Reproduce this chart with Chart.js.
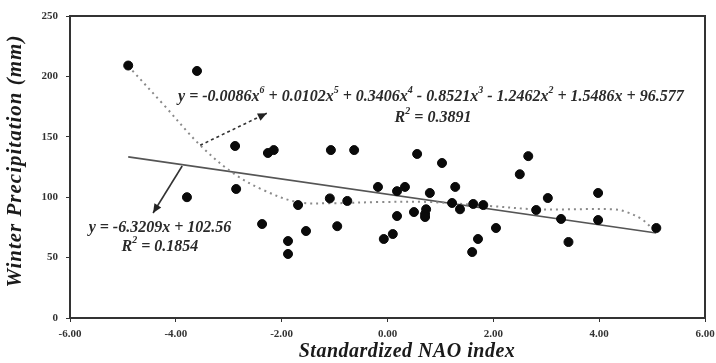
<!DOCTYPE html>
<html>
<head>
<meta charset="utf-8">
<script src="https://cdn.jsdelivr.net/npm/chart.js@4/dist/chart.umd.min.js"></script>
<style>
  html, body { margin: 0; padding: 0; background: #fff; }
  #wrap { width: 716px; height: 363px; }
</style>
</head>
<body>
<div id="wrap"><canvas id="chart" width="716" height="363"></canvas></div>
<script>
// Observed points: standardized NAO index vs winter precipitation (mm)
const naoIndex = [-4.90, -3.60, -2.88, -2.26, -2.15, -1.07, -0.63, 0.56, 1.03, 2.66, 2.50,
    -3.79, -2.86, -2.37, -1.88, -1.88, -1.69, -1.54, -1.09, -0.76, -0.95,
    -0.18, 0.18, 0.33, 0.80, 1.28, 1.22, 1.37, 1.62, 1.81, 0.18, 0.50, 0.73, 0.71, 0.71,
    -0.07, 0.10, 1.60, 1.71, 2.05, 2.81, 3.03, 3.28, 3.42, 3.98, 3.98, 5.08];
const winterPrecip = [209, 204.5, 142.4, 136.6, 139, 139, 139, 135.8, 128.3, 134, 119,
    100, 106.8, 77.8, 63.7, 53, 93.5, 72, 99, 96.9, 76,
    108.5, 105, 108.5, 103.5, 108.5, 95.2, 90, 94.4, 93.5, 84.4, 87.7, 90, 86, 83.6,
    65.4, 69.5, 54.6, 65.4, 74.5, 89.4, 99.3, 82, 62.9, 103.5, 81.1, 74.5];

// Linear trend line (end points)
const linearX = [-4.90, 5.08];
const linearY = [133.4, 70.4];

// 6th order polynomial trend (dotted)
const polyX = [-4.90, -4.22, -3.54, -2.92, -2.35, -1.71, -1.09, -0.14, 0.80, 1.94, 2.83, 4.26, 4.52, 4.83, 5.08];
const polyY = [208.6, 176, 143, 120, 106, 96, 95, 96, 96, 92.7, 90, 90, 87.7, 81, 70.4];

// Axis ticks
const xTicks = [-6, -4, -2, 0, 2, 4, 6];
const yTicks = [0, 50, 100, 150, 200, 250];

const toPoints = (xs, ys) => xs.map((x, i) => ({ x: x, y: ys[i] }));

const SERIF = '"Liberation Serif", "DejaVu Serif", serif';

// Draw a string made of normal and superscript parts, centred on cx
function drawEquation(ctx, parts, cx, cy, size) {
    const normal = `italic bold ${size}px ${SERIF}`;
    const sup = `italic bold ${Math.round(size * 0.6)}px ${SERIF}`;
    let width = 0;
    parts.forEach(p => {
        ctx.font = p[1] ? sup : normal;
        width += ctx.measureText(p[0]).width;
    });
    let x = cx - width / 2;
    ctx.textBaseline = 'middle';
    ctx.textAlign = 'left';
    parts.forEach(p => {
        ctx.font = p[1] ? sup : normal;
        ctx.fillText(p[0], x, p[1] ? cy - size * 0.4 : cy);
        x += ctx.measureText(p[0]).width;
    });
}

function drawArrow(ctx, x1, y1, x2, y2, dash) {
    ctx.save();
    ctx.strokeStyle = '#333';
    ctx.fillStyle = '#222';
    ctx.lineWidth = 1.6;
    ctx.setLineDash(dash);
    ctx.beginPath();
    ctx.moveTo(x1, y1);
    ctx.lineTo(x2, y2);
    ctx.stroke();
    ctx.setLineDash([]);
    const a = Math.atan2(y2 - y1, x2 - x1);
    const len = 9, w = 4;
    ctx.beginPath();
    ctx.moveTo(x2, y2);
    ctx.lineTo(x2 - len * Math.cos(a) + w * Math.sin(a), y2 - len * Math.sin(a) - w * Math.cos(a));
    ctx.lineTo(x2 - len * Math.cos(a) - w * Math.sin(a), y2 - len * Math.sin(a) + w * Math.cos(a));
    ctx.closePath();
    ctx.fill();
    ctx.restore();
}

const notesPlugin = {
    id: 'notes',
    afterDraw(chart) {
        const { ctx, chartArea, scales } = chart;
        const px = v => scales.x.getPixelForValue(v);
        const py = v => scales.y.getPixelForValue(v);

        // frame around the plot
        ctx.save();
        ctx.strokeStyle = '#333';
        ctx.lineWidth = 2;
        ctx.strokeRect(chartArea.left, chartArea.top, chartArea.width, chartArea.height);
        ctx.restore();

        // arrows
        drawArrow(ctx, px(-3.54), py(143), px(-2.28), py(169.5), [3, 3]);
        drawArrow(ctx, px(-3.88), py(125.8), px(-4.43), py(86.9), []);

        // equations
        ctx.save();
        ctx.fillStyle = '#2a2a2a';
        drawEquation(ctx, [
            ['y = -0.0086x', false], ['6', true], [' + 0.0102x', false], ['5', true],
            [' + 0.3406x', false], ['4', true], [' - 0.8521x', false], ['3', true],
            [' - 1.2462x', false], ['2', true], [' + 1.5486x + 96.577', false]
        ], px(0.82), py(183), 16);
        drawEquation(ctx, [['R', false], ['2', true], [' = 0.3891', false]], px(0.86), py(165.6), 16);
        drawEquation(ctx, [['y = -6.3209x + 102.56', false]], px(-4.30), py(74.5), 16);
        drawEquation(ctx, [['R', false], ['2', true], [' = 0.1854', false]], px(-4.30), py(58.8), 16);
        ctx.restore();

        // axis titles
        ctx.save();
        ctx.fillStyle = '#1a1a1a';
        ctx.textAlign = 'center';
        ctx.textBaseline = 'middle';
        ctx.letterSpacing = '0.5px';
        ctx.font = `italic bold 20px ${SERIF}`;
        ctx.fillText('Standardized NAO index', 407, 352);
        ctx.letterSpacing = '1px';
        ctx.translate(16, 161);
        ctx.rotate(-Math.PI / 2);
        ctx.font = `italic bold 21px ${SERIF}`;
        ctx.fillText('Winter Precipitation (mm)', 0, 0);
        ctx.restore();
    }
};

new Chart(document.getElementById('chart'), {
    type: 'scatter',
    data: {
        datasets: [
            {
                label: 'Observed',
                data: toPoints(naoIndex, winterPrecip),
                backgroundColor: '#0a0a0a',
                borderColor: '#0a0a0a',
                pointRadius: 4.5,
                order: 0
            },
            {
                label: 'Linear',
                data: toPoints(linearX, linearY),
                showLine: true,
                borderColor: '#555',
                borderWidth: 1.6,
                pointRadius: 0,
                order: 2
            },
            {
                label: 'Poly',
                data: toPoints(polyX, polyY),
                showLine: true,
                borderColor: '#8a8a8a',
                borderWidth: 2,
                borderDash: [2, 4],
                tension: 0.35,
                pointRadius: 0,
                order: 1
            }
        ]
    },
    options: {
        responsive: false,
        animation: false,
        layout: { padding: { top: 16, right: 11, left: 0, bottom: 0 } },
        plugins: {
            legend: { display: false },
            tooltip: { enabled: false }
        },
        scales: {
            x: {
                type: 'linear',
                min: -6,
                max: 6,
                afterBuildTicks: axis => { axis.ticks = xTicks.map(v => ({ value: v })); },
                afterFit: axis => {
                    axis.height = 45;
                    axis.paddingLeft = 0;
                    axis.paddingRight = 0;
                },
                grid: { drawOnChartArea: false, tickLength: 4, color: '#333' },
                border: { color: '#333', width: 2 },
                ticks: {
                    color: '#333',
                    padding: 6,
                    font: { family: SERIF, size: 11, weight: 'bold' },
                    callback: v => v.toFixed(2)
                },
                title: { display: false }
            },
            y: {
                type: 'linear',
                min: 0,
                max: 250,
                afterBuildTicks: axis => { axis.ticks = yTicks.map(v => ({ value: v })); },
                afterFit: axis => {
                    axis.width = 70;
                    axis.paddingTop = 0;
                    axis.paddingBottom = 0;
                },
                grid: { drawOnChartArea: false, tickLength: 4, color: '#333' },
                border: { color: '#333', width: 2 },
                ticks: {
                    color: '#333',
                    padding: 8,
                    font: { family: SERIF, size: 11, weight: 'bold' }
                },
                title: { display: false }
            }
        }
    },
    plugins: [notesPlugin]
});
</script>
</body>
</html>
